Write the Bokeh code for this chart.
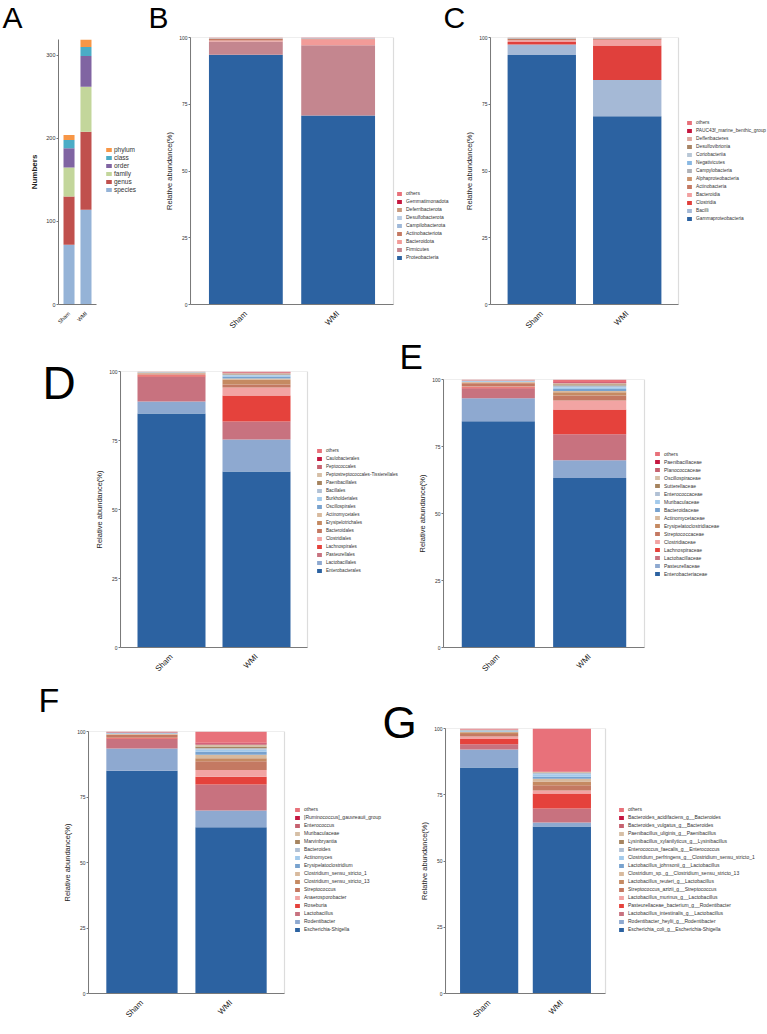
import math
from bokeh.plotting import figure
from bokeh.models import (ColumnDataSource, Range1d, FixedTicker, Legend,
                          LegendItem, BoxAnnotation)
from bokeh.core.properties import value
from bokeh.layouts import row, column
from bokeh.embed import file_html
from bokeh.resources import INLINE

FONT = "Liberation Sans"
GROUPS = ["Sham", "WMI"]
GROUP_X = [0.5, 1.5]

# ---- A: number of taxa per level ----
A_levels = ["species", "genus", "family", "order", "class", "phylum"]
A_sham = [72, 58, 35, 23, 10, 6]
A_wmi = [114, 94, 54, 37, 11, 9]
A_colors = ["#95B3D7", "#C0504D", "#C3D69B", "#8064A2", "#4BACC6", "#F79646"]

# ---- B: phylum ----
B_taxa = ["Proteobacteria", "Firmicutes", "Bacteroidota", "Actinobacteriota",
          "Campilobacterota", "Desulfobacterota", "Deferribacterota",
          "Gemmatimonadota", "others"]
B_sham = [93.5, 5.0, 0.4, 0.6, 0.1, 0.1, 0.1, 0.05, 0.15]
B_wmi = [70.8, 26.3, 2.2, 0.3, 0.1, 0.1, 0.05, 0.05, 0.1]
B_colors = ["#2C62A1", "#C4868F", "#F29B98", "#C47962", "#9FB8D8", "#B8CCE4",
            "#C99A7E", "#C5173F", "#E8717A"]

# ---- C: class ----
C_taxa = ["Gammaproteobacteria", "Bacilli", "Clostridia", "Bacteroidia",
          "Actinobacteria", "Alphaproteobacteria", "Campylobacteria",
          "Negativicutes", "Coriobacteriia", "Desulfovibrionia", "Defferibacteres",
          "PAUC43f_marine_benthic_group", "others"]
C_sham = [93.4, 4.0, 0.9, 0.7, 0.4, 0.2, 0.1, 0.1, 0.05, 0.05, 0.03, 0.02, 0.05]
C_wmi = [70.5, 13.6, 12.9, 2.2, 0.3, 0.1, 0.1, 0.1, 0.05, 0.05, 0.03, 0.02, 0.05]
C_colors = ["#2C62A1", "#A5B9D6", "#E0403C", "#F2A0A0", "#C47962", "#CC9670",
            "#B0B2B8", "#8AB8E2", "#B8C7D6", "#A88465", "#DDA99F", "#C5173F",
            "#E8717A"]

# shared 16-colour palette for order / family / genus / species
PAL16 = ["#2C62A1", "#8EA9D0", "#C8727F", "#E5423C", "#F2A4A3", "#C47962",
         "#C58A62", "#D8BA9E", "#78A2CE", "#A3CAEB", "#B1C1D5", "#A6845F",
         "#D6BFA6", "#C6616F", "#C5173F", "#E8717A"]

# ---- D: order ----
D_taxa = ["Enterobacterales", "Lactobacillales", "Pasteurellales", "Lachnospirales",
          "Clostridiales", "Bacteroidales", "Erysipelotrichales", "Actinomycetales",
          "Oscillospirales", "Burkholderiales", "Bacillales", "Paenibacillales",
          "Peptostreptococcales-Tissierellales", "Peptococcales", "Caulobacterales",
          "others"]
D_sham = [84.8, 4.3, 9.1, 0.4, 0.3, 0.3, 0.2, 0.2, 0.1, 0.05, 0.05, 0.05, 0.05,
          0.02, 0.01, 0.07]
D_wmi = [63.8, 11.6, 6.5, 9.4, 2.9, 1.1, 1.8, 0.4, 0.7, 0.4, 0.3, 0.3, 0.2, 0.2,
         0.1, 0.3]

# ---- E: family ----
E_taxa = ["Enterobacteriaceae", "Pasteurellaceae", "Lactobacillaceae",
          "Lachnospiraceae", "Clostridiaceae", "Streptococcaceae",
          "Erysipelatoclostridiaceae", "Actinomycetaceae", "Bacteroidaceae",
          "Muribaculaceae", "Enterococcaceae", "Sutterellaceae", "Oscillospiraceae",
          "Planococcaceae", "Paenibacillaceae", "others"]
E_sham = [84.4, 8.6, 3.7, 0.4, 0.3, 1.2, 0.3, 0.2, 0.2, 0.1, 0.1, 0.05, 0.1, 0.05,
          0.05, 0.25]
E_wmi = [63.2, 6.7, 9.7, 9.2, 3.4, 1.8, 1.2, 0.5, 0.8, 0.6, 0.7, 0.4, 0.4, 0.3,
         0.2, 0.9]

# ---- F: genus ----
F_taxa = ["Escherichia-Shigella", "Rodentibacter", "Lactobacillus", "Roseburia",
          "Anaerosporobacter", "Streptococcus", "Clostridium_sensu_stricto_13",
          "Clostridium_sensu_stricto_1", "Erysipelatoclostridium", "Actinomyces",
          "Bacteroides", "Marvinbryantia", "Muribaculaceae", "Enterococcus",
          "[Ruminococcus]_gauvreauii_group", "others"]
F_sham = [85.0, 8.5, 3.6, 0.3, 0.2, 1.1, 0.2, 0.2, 0.2, 0.1, 0.1, 0.05, 0.1, 0.1,
          0.05, 0.2]
F_wmi = [63.5, 6.3, 10.0, 2.9, 2.6, 3.3, 1.2, 1.3, 1.2, 0.7, 0.6, 0.7, 0.6, 0.5,
         0.3, 4.3]

# ---- G: species ----
G_taxa = ["Escherichia_coli_g__Escherichia-Shigella",
          "Rodentibacter_heylii_g__Rodentibacter",
          "Lactobacillus_intestinalis_g__Lactobacillus",
          "Pasteurellaceae_bacterium_g__Rodentibacter",
          "Lactobacillus_murinus_g__Lactobacillus",
          "Streptococcus_azizii_g__Streptococcus",
          "Lactobacillus_reuteri_g__Lactobacillus",
          "Clostridium_sp._g__Clostridium_sensu_stricto_13",
          "Lactobacillus_johnsonii_g__Lactobacillus",
          "Clostridium_perfringens_g__Clostridium_sensu_stricto_1",
          "Enterococcus_faecalis_g__Enterococcus",
          "Lysinibacillus_xylanilyticus_g__Lysinibacillus",
          "Paenibacillus_uliginis_g__Paenibacillus",
          "Bacteroides_vulgatus_g__Bacteroides",
          "Bacteroides_acidifaciens_g__Bacteroides",
          "others"]
G_sham = [85.3, 6.8, 2.0, 1.9, 1.0, 0.9, 0.7, 0.2, 0.2, 0.2, 0.1, 0.1, 0.1, 0.1,
          0.05, 0.35]
G_wmi = [63.0, 1.5, 5.3, 5.7, 1.1, 2.0, 1.4, 1.0, 0.8, 0.9, 0.5, 0.2, 0.2, 0.1,
         0.1, 16.2]


def build(taxa, sham, wmi, colors, fig_box, frame, ymax, yticks, ylabel, leg,
          boxed=True, bar_w=0.8, pad=0.1, tick_font="5px", xlab_font="8px",
          ylab_font="7.5px", ylab_style="normal", ylab_standoff=2):
    """Stacked-bar panel.  The plotting frame runs from the y axis to the
    figure's right edge, so the legend can sit inside it next to the bars."""
    x0, x1, y0, y1 = fig_box
    L, R, T, B = frame               # R: right edge of the bar box
    unit = (R - L) / (2 + 2 * pad)   # pixels per category
    x_start = -pad
    x_end = x_start + (x1 - L) / unit
    p = figure(width=x1 - x0, height=y1 - y0,
               x_range=Range1d(x_start, x_end), y_range=Range1d(0, ymax),
               output_backend="svg", toolbar_location=None,
               min_border_left=L - x0, min_border_right=0,
               min_border_top=T - y0, min_border_bottom=y1 - B)
    p.background_fill_color = "white"
    p.border_fill_color = "white"
    p.xgrid.visible = False
    p.ygrid.visible = False
    p.outline_line_color = None

    data = {"x": GROUP_X}
    keys = []
    for i, (s, w) in enumerate(zip(sham, wmi)):
        k = f"t{i}"
        data[k] = [s, w]
        keys.append(k)
    src = ColumnDataSource(data)
    rends = p.vbar_stack(keys, x="x", width=bar_w, color=colors,
                         source=src, line_color=None)

    if boxed:
        p.add_layout(BoxAnnotation(left=-pad, right=2 + pad, bottom=0, top=ymax,
                                   fill_color=None, line_color="#8a8a8a",
                                   line_width=1.2))

    ya = p.yaxis[0]
    ya.ticker = FixedTicker(ticks=yticks)
    ya.axis_label = ylabel
    ya.axis_label_text_font = FONT
    ya.axis_label_text_font_size = ylab_font
    ya.axis_label_text_font_style = ylab_style
    ya.axis_label_text_color = "#222"
    ya.axis_label_standoff = ylab_standoff
    ya.major_label_text_font = FONT
    ya.major_label_text_font_size = tick_font
    ya.major_label_text_color = "#333"
    ya.major_label_standoff = 1
    ya.major_tick_out = 2
    ya.major_tick_in = 0
    ya.minor_tick_line_color = None
    ya.axis_line_color = "#777"
    ya.major_tick_line_color = "#777"

    xa = p.xaxis[0]
    xa.ticker = FixedTicker(ticks=GROUP_X)
    xa.major_label_overrides = {GROUP_X[0]: GROUPS[0], GROUP_X[1]: GROUPS[1]}
    xa.bounds = (-pad, 2 + pad)
    xa.major_label_orientation = math.pi / 4
    xa.major_label_text_font = FONT
    xa.major_label_text_font_size = xlab_font
    xa.major_label_text_color = "#222"
    xa.major_label_standoff = 2
    xa.major_tick_line_color = None
    xa.minor_tick_line_color = None
    xa.axis_line_color = "#777"

    # legend beside the bars, last taxon on top
    mx, first, pitch, font, gw, gh, lh, sp, so = leg
    n = len(taxa)
    H = n * lh + (n - 1) * sp
    centre = first + (n - 1) * pitch / 2
    top = centre - H / 2
    items = [LegendItem(label=t, renderers=[r])
             for t, r in zip(taxa[::-1], rends[::-1])]
    legend = Legend(items=items, location=(mx - L, B - (top + H)),
                    label_text_font=FONT, label_text_font_size=font,
                    label_text_color="#333",
                    glyph_width=gw, glyph_height=gh, label_height=lh,
                    label_standoff=so, spacing=sp, padding=0, margin=0,
                    border_line_color=None, background_fill_alpha=0)
    p.add_layout(legend)
    return column(p)


def letters(w, h, marks, size):
    """Blank strip carrying panel letters; marks are (text, x, middle-y) measured
    from the strip's top-left corner."""
    p = figure(width=w, height=h, x_range=Range1d(0, w), y_range=Range1d(h, 0),
               x_axis_type=None, y_axis_type=None, min_border=0,
               output_backend="svg", toolbar_location=None)
    p.grid.visible = False
    p.outline_line_color = None
    src = ColumnDataSource(dict(t=[m[0] for m in marks], x=[m[1] for m in marks],
                                y=[m[2] for m in marks]))
    p.text(x="x", y="y", text="t", source=src, text_font=value(FONT),
           text_font_size=value(size), text_baseline="middle",
           text_align="left", text_color="black")
    return column(p)


# row 1 : A B C
stripABC = letters(767, 34, [("A", 2, 17), ("B", 148, 17), ("C", 443, 17)], "30px")
pA = build(A_levels, A_sham, A_wmi, A_colors, (0, 145, 34, 336), (58, 96, 39, 304),
           319, [0, 100, 200, 300], "Numbers",
           (105, 154, 7.5, "6.5px", 7, 5, 6, 1, 2), boxed=False, bar_w=0.65,
           pad=0.12, tick_font="5.5px", xlab_font="5.5px", ylab_font="8px",
           ylab_style="bold", ylab_standoff=4)
pB = build(B_taxa, B_sham, B_wmi, B_colors, (145, 458, 34, 336), (190, 393, 37, 306),
           100, [0, 25, 50, 75, 100], "Relative abundance(%)",
           (396, 193, 8.5, "5px", 6, 5, 6, 2, 4))
pC = build(C_taxa, C_sham, C_wmi, C_colors, (458, 767, 34, 336), (490, 678, 37, 306),
           100, [0, 25, 50, 75, 100], "Relative abundance(%)",
           (686, 123, 8.25, "4.8px", 6, 5, 6, 2, 4))

# row 2 : D E
stripD = letters(85, 344, [("D", 42, 398 - 336 - 16)], "46px")
pD = build(D_taxa, D_sham, D_wmi, PAL16, (85, 399, 336, 680), (120, 307, 371, 647),
           100, [0, 25, 50, 75, 100], "Relative abundance(%)",
           (316, 447, 8.4, "4.6px", 6, 5, 6, 2, 4))
stripE = letters(368, 40, [("E", 0, 20)], "35px")
pE = build(E_taxa, E_sham, E_wmi, PAL16, (399, 767, 376, 680), (443, 644, 379, 647),
           100, [0, 25, 50, 75, 100], "Relative abundance(%)",
           (654, 453, 8.13, "5px", 6, 5, 6, 2, 4))

# row 3 : F G
stripF = letters(382, 38, [("F", 38, 19)], "34px")
pF = build(F_taxa, F_sham, F_wmi, PAL16, (0, 382, 718, 1034), (88, 284, 731, 993),
           100, [0, 25, 50, 75, 100], "Relative abundance(%)",
           (294, 807, 8.33, "5px", 6, 5, 6, 2, 4))
stripG = letters(35, 354, [("G", 0, 737 - 680 - 15)], "44px")
pG = build(G_taxa, G_sham, G_wmi, PAL16, (417, 767, 680, 1034), (441, 603, 728, 993),
           100, [0, 25, 50, 75, 100], "Relative abundance(%)",
           (614, 806, 8.4, "5px", 6, 5, 6, 2, 4))

page = column(
    column(stripABC, row(pA, pB, pC)),
    row(stripD, pD, column(stripE, pE)),
    row(column(stripF, pF), stripG, pG),
)

html = file_html(page, INLINE, title="Taxonomic composition")
html = html.replace("<head>", "<head><style>body{margin:0;padding:0;}</style>", 1)
with open("out.html", "w") as f:
    f.write(html)
